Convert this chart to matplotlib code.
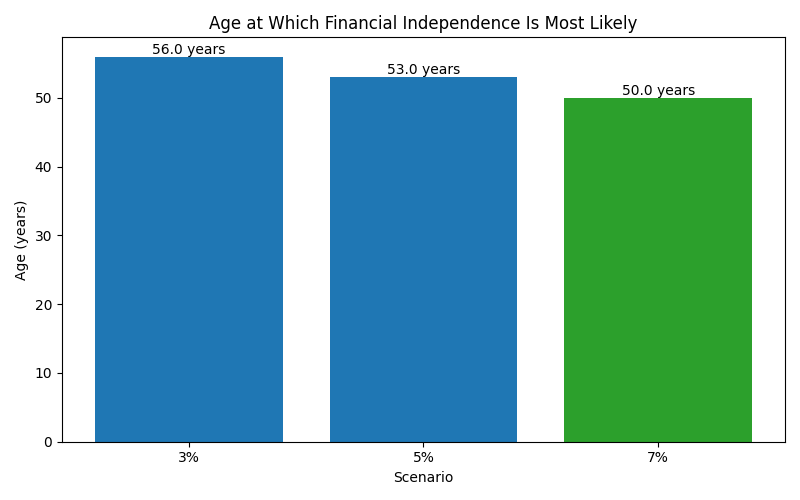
import matplotlib.pyplot as plt

scenarios = ["3%", "5%", "7%"]
ages = [56.0, 53.0, 50.0]
colors = ["#1f77b4", "#1f77b4", "#2ca02c"]

fig, ax = plt.subplots(figsize=(8, 5), dpi=100)
bars = ax.bar(scenarios, ages, color=colors)
for b, v in zip(bars, ages):
    ax.text(b.get_x() + b.get_width() / 2, v, f"{v:.1f} years",
            ha="center", va="bottom")

ax.set_title("Age at Which Financial Independence Is Most Likely")
ax.set_xlabel("Scenario")
ax.set_ylabel("Age (years)")

plt.tight_layout()
plt.savefig("out.png")
